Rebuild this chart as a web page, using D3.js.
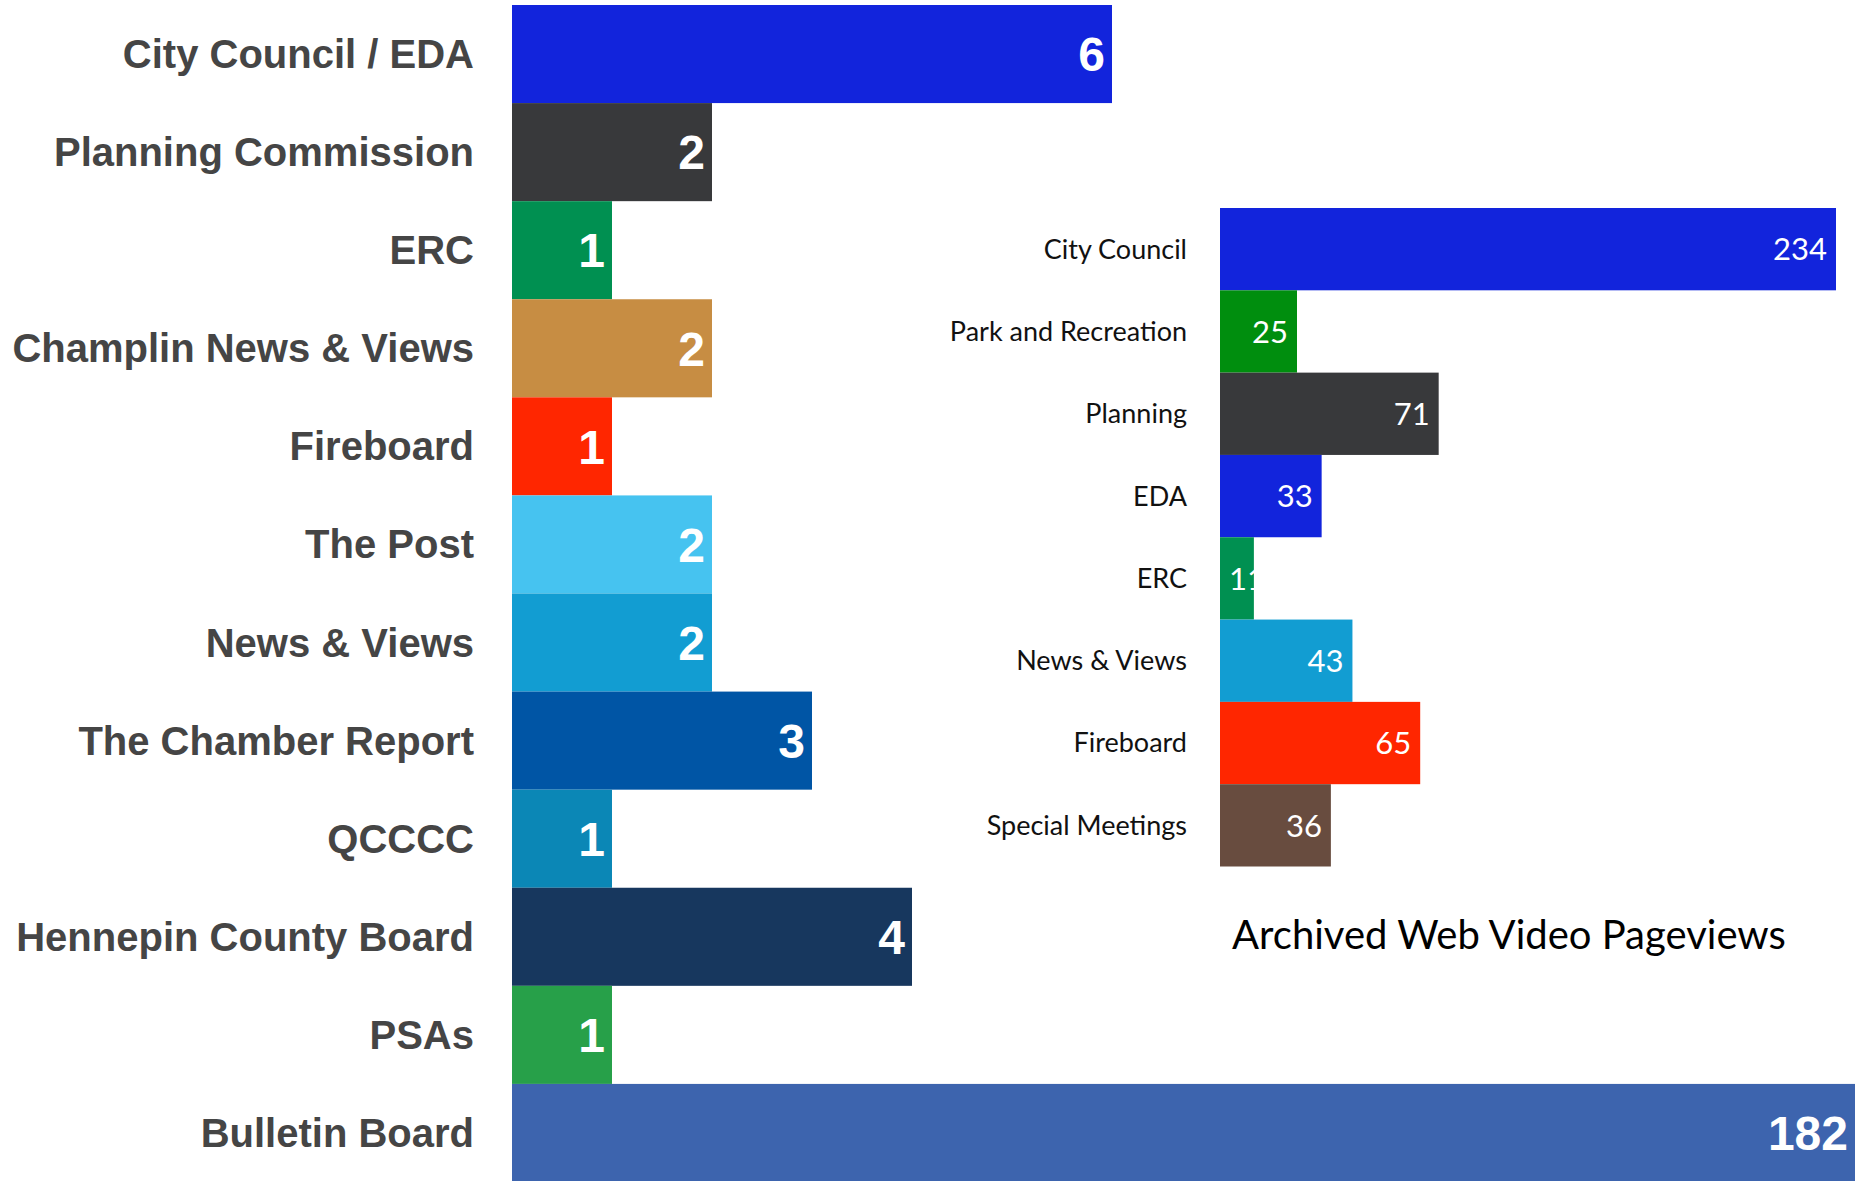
<!DOCTYPE html>
<html>
<head>
<meta charset="utf-8">
<script src="https://cdn.jsdelivr.net/npm/d3@7"></script>
<style>
  html, body { margin: 0; padding: 0; background: #fff; }
  svg { display: block; }
</style>
</head>
<body>
<div id="chart"></div>
<script>
// Left chart: outlet counts
const leftCategories = ['City Council / EDA', 'Planning Commission', 'ERC', 'Champlin News & Views',
  'Fireboard', 'The Post', 'News & Views', 'The Chamber Report', 'QCCCC',
  'Hennepin County Board', 'PSAs', 'Bulletin Board'];
const leftValues = [6, 2, 1, 2, 1, 2, 2, 3, 1, 4, 1, 182];
const leftColors = ['#1224dc', '#38393b', '#009051', '#c78d43', '#ff2600', '#46c3f0',
  '#129dd2', '#0055a5', '#0b87b6', '#17375e', '#27a049', '#3d64ae'];

// Right chart: archived web video pageviews
const rightCategories = ['City Council', 'Park and Recreation', 'Planning', 'EDA', 'ERC',
  'News & Views', 'Fireboard', 'Special Meetings'];
const rightValues = [234, 25, 71, 33, 11, 43, 65, 36];
const rightColors = ['#1224dc', '#008e0e', '#38393b', '#1224dc', '#009051',
  '#129dd2', '#ff2600', '#684c3f'];
const rightTitle = 'Archived Web Video Pageviews';

const width = 1860;
const height = 1181;

const svg = d3.select('#chart')
  .append('svg')
  .attr('width', width)
  .attr('height', height);

svg.append('rect').attr('width', width).attr('height', height).attr('fill', '#fff');

// ---- left chart ----
// axis is broken in the original: the long bar just runs off to the edge
const xL = d3.scaleLinear().domain([0, 13.43]).range([512, 1855]).clamp(true);
const yL = d3.scaleBand().domain(leftCategories).range([5, 1182]).padding(0);

const left = svg.append('g');
const leftRows = left.selectAll('g.row')
  .data(leftCategories.map((c, i) => ({name: c, value: leftValues[i], color: leftColors[i]})))
  .join('g')
  .attr('class', 'row');

leftRows.append('rect')
  .attr('x', xL(0))
  .attr('y', d => yL(d.name))
  .attr('width', d => xL(d.value) - xL(0))
  .attr('height', yL.bandwidth())
  .attr('fill', d => d.color);

leftRows.append('text')
  .attr('x', xL(0) - 38)
  .attr('y', d => yL(d.name) + yL.bandwidth() / 2)
  .attr('dy', '0.35em')
  .attr('text-anchor', 'end')
  .style('font-family', '"Liberation Sans", Arial, sans-serif')
  .style('font-weight', 'bold')
  .style('font-size', '40px')
  .style('fill', '#454545')
  .text(d => d.name);

leftRows.append('text')
  .attr('x', d => xL(d.value) - 7)
  .attr('y', d => yL(d.name) + yL.bandwidth() / 2)
  .attr('dy', '0.36em')
  .attr('text-anchor', 'end')
  .style('font-family', '"Liberation Sans", Arial, sans-serif')
  .style('font-weight', 'bold')
  .style('font-size', '48px')
  .style('fill', '#fff')
  .text(d => d.value);

// ---- right chart ----
const xR = d3.scaleLinear().domain([0, 200]).range([1220, 1836]).clamp(true);
const yR = d3.scaleBand().domain(rightCategories).range([208, 866.5]).padding(0);

const right = svg.append('g');
const rightRows = right.selectAll('g.row')
  .data(rightCategories.map((c, i) => ({name: c, value: rightValues[i], color: rightColors[i]})))
  .join('g')
  .attr('class', 'row');

rightRows.append('rect')
  .attr('x', xR(0))
  .attr('y', d => yR(d.name))
  .attr('width', d => xR(d.value) - xR(0))
  .attr('height', yR.bandwidth())
  .attr('fill', d => d.color);

rightRows.append('text')
  .attr('x', xR(0) - 33)
  .attr('y', d => yR(d.name) + yR.bandwidth() / 2)
  .attr('dy', '0.35em')
  .attr('text-anchor', 'end')
  .style('font-family', 'Lato, sans-serif')
  .style('font-size', '27px')
  .style('fill', '#111')
  .text(d => d.name);

const valLabels = rightRows.append('text')
  .attr('y', d => yR(d.name) + yR.bandwidth() / 2)
  .attr('dy', '0.36em')
  .style('font-family', 'Lato, sans-serif')
  .style('font-size', '31px')
  .style('fill', '#fff')
  .text(d => d.value);

// right-align inside the bar, unless the bar is too short for the label
valLabels.each(function(d) {
  const w = this.getComputedTextLength();
  const end = xR(d.value) - 9;
  const t = d3.select(this);
  if (end - w < xR(0) + 10) {
    t.attr('x', xR(0) + 9).attr('text-anchor', 'start');
  } else {
    t.attr('x', end).attr('text-anchor', 'end');
  }
});

svg.append('text')
  .attr('x', 1509)
  .attr('y', 949)
  .attr('text-anchor', 'middle')
  .style('font-family', 'Lato, sans-serif')
  .style('font-size', '40px')
  .style('fill', '#000')
  .text(rightTitle);
</script>
</body>
</html>
